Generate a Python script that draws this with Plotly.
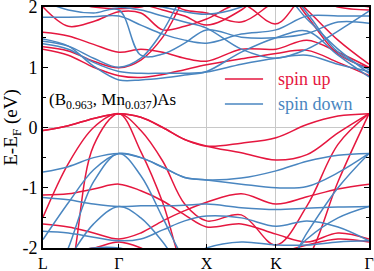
import plotly.graph_objects as go

# high-symmetry points (path length units) and tick labels
sym_pos = [0.0, 0.866, 1.866, 2.657, 3.718]
sym_labels = ["L", "Γ", "X", "K", "Γ"]

# k sampling along L-Γ-X-K-Γ (fractions of each segment)
seg_fracs = [[0, 1/3, 2/3, 1], [0.25, 0.5, 0.75, 1], [0.5, 1], [1/3, 2/3, 1]]

# spin-up bands (eV), one value per k sample
up_bands = [
    [-0.05, 0.03, 0.15, 0.23, 0.17, 0.00, -0.20, -0.31, -0.26, -0.17, 0.05, 0.19, 0.23],
    [-0.05, 0.03, 0.15, 0.23, 0.17, 0.00, -0.20, -0.31, -0.42, -0.54, -0.45, -0.09, 0.23],
    [-1.49, -0.60, 0.00, 0.23, -0.05, -0.56, -1.27, -1.55, -1.45, -1.95, -1.30, -0.28, 0.23],
    [-3.50, -2.60, -0.30, 0.23, -0.40, -1.25, -2.40, -2.90, -2.90, -2.70, -2.20, -0.90, 0.23],
    [-1.12, -1.10, -1.02, -0.94, -1.05, -1.22, -1.45, -1.65, -1.60, -1.77, -1.90, -1.75, -1.85],
    [-1.60, -1.65, -1.75, -1.85, -1.75, -1.55, -1.38, -1.24, -1.10, -1.27, -1.15, -1.02, -0.94],
    [-2.10, -2.05, -2.00, -1.90, -2.00, -2.20, -2.40, -2.50, -2.30, -2.10, -1.95, -1.85, -1.90],
    [1.34, 1.27, 1.10, 0.99, 1.12, 1.50, 2.15, 2.70, 2.70, 2.50, 1.85, 1.22, 0.99],
    [1.30, 1.20, 1.00, 0.86, 0.83, 0.88, 0.96, 1.04, 1.14, 1.23, 1.28, 1.08, 0.86],
    [1.58, 1.52, 1.38, 1.25, 1.30, 1.25, 1.15, 1.10, 1.30, 1.30, 1.45, 1.25, 1.00],
    [2.00, 1.68, 1.76, 1.92, 1.90, 1.62, 1.68, 1.80, 2.05, 1.72, 2.20, 2.00, 1.95],
    [2.30, 2.10, 2.00, 1.97, 2.00, 2.10, 1.95, 1.90, 1.75, 2.10, 2.30, 2.10, 2.00],
    [2.40, 2.30, 2.20, 2.10, 2.05, 1.95, 1.85, 1.70, 1.95, 2.40, 1.95, 1.45, 1.05],
]

# spin-down bands (eV)
down_bands = [
    [-0.74, -0.65, -0.50, -0.43, -0.50, -0.66, -0.83, -0.87, -0.84, -0.72, -0.56, -0.46, -0.43],
    [-1.86, -1.25, -0.70, -0.43, -0.50, -0.66, -0.83, -0.87, -0.94, -1.00, -0.98, -0.75, -0.43],
    [-3.00, -2.00, -0.90, -0.43, -0.80, -1.50, -2.20, -2.60, -2.80, -2.60, -1.75, -1.00, -0.43],
    [-1.16, -1.20, -1.27, -1.31, -1.30, -1.30, -1.29, -1.27, -1.33, -1.36, -1.34, -1.32, -1.31],
    [-3.00, -2.20, -1.60, -1.31, -1.50, -1.90, -2.40, -2.60, -2.70, -2.40, -1.85, -1.50, -1.31],
    [-1.72, -1.75, -1.82, -1.88, -1.85, -1.70, -1.55, -1.47, -1.50, -1.64, -1.55, -1.65, -1.88],
    [-2.30, -2.10, -2.00, -2.00, -2.10, -2.20, -2.20, -2.00, -1.90, -1.95, -1.95, -1.90, -1.88],
    [1.43, 1.35, 1.15, 1.00, 1.15, 1.60, 2.25, 2.70, 2.70, 2.50, 1.90, 1.25, 0.96],
    [1.39, 1.30, 1.08, 0.93, 0.90, 0.90, 0.90, 0.92, 1.05, 1.15, 1.20, 1.05, 0.93],
    [1.47, 1.35, 1.02, 0.79, 0.79, 0.82, 0.87, 0.93, 1.25, 1.49, 1.60, 1.20, 0.84],
    [1.83, 1.83, 1.84, 1.85, 1.70, 1.55, 1.45, 1.40, 1.55, 1.62, 1.85, 1.85, 1.85],
    [2.10, 1.95, 1.90, 1.95, 1.20, 1.22, 1.40, 1.62, 1.50, 1.49, 1.56, 1.75, 1.73],
    [2.30, 2.20, 2.05, 2.00, 1.95, 1.85, 1.75, 1.65, 1.30, 1.15, 1.30, 1.60, 1.93],
    [2.50, 2.40, 2.25, 2.15, 2.05, 2.00, 1.92, 1.88, 2.00, 2.30, 1.80, 1.30, 0.90],
]

legend_labels = ["spin up", "spin down"]

RED = "#e5173f"
BLUE = "#4a86c0"
FONT = "Liberation Serif, Times New Roman, DejaVu Serif, serif"

# k coordinates from high-symmetry positions
kpts = [sym_pos[0]]
for i, fr in enumerate(seg_fracs):
    a, b = sym_pos[i], sym_pos[i + 1]
    if i == 0:
        fr = fr[1:]
    kpts += [a + f * (b - a) for f in fr]

fig = go.Figure()
for e in up_bands:
    fig.add_trace(go.Scatter(x=kpts, y=e, mode="lines", line=dict(color=RED, width=1.5, shape="spline", smoothing=1.0),
                             showlegend=False, hoverinfo="skip"))
for e in down_bands:
    fig.add_trace(go.Scatter(x=kpts, y=e, mode="lines", line=dict(color=BLUE, width=1.5, shape="spline", smoothing=1.0),
                             showlegend=False, hoverinfo="skip"))

# legend drawn as short lines + labels
for lab, col, yy in [(legend_labels[0], RED, 0.701), (legend_labels[1], BLUE, 0.598)]:
    fig.add_shape(type="line", xref="paper", yref="paper", x0=0.558, x1=0.675, y0=yy, y1=yy,
                  line=dict(color=col, width=1.5))
    fig.add_annotation(x=0.716, y=yy, xref="paper", yref="paper", xanchor="left", yanchor="middle",
                       text=lab, showarrow=False, font=dict(family=FONT, size=18, color=col))

fig.add_annotation(x=0.012, y=0.612, xref="paper", yref="paper", xanchor="left", yanchor="middle",
                   text="(B<sub>0.963</sub>, Mn<sub>0.037</sub>)As", showarrow=False,
                   font=dict(family=FONT, size=17, color="black"))

fig.update_layout(
    width=374, height=271,
    margin=dict(l=43, r=5, t=7, b=23, autoexpand=False),
    paper_bgcolor="white", plot_bgcolor="white",
    font=dict(family=FONT, size=18, color="black"),
    showlegend=False,
    xaxis=dict(range=[sym_pos[0], sym_pos[-1]], tickvals=sym_pos, ticktext=sym_labels,
               showgrid=True, gridcolor="#c8c8c8", gridwidth=1,
               showline=True, linecolor="black", linewidth=2, mirror=True,
               ticks="inside", ticklen=4, tickcolor="black", zeroline=False,
               ticklabeloverflow="allow", automargin=False,
               tickfont=dict(family=FONT, size=16)),
    yaxis=dict(range=[-2, 2], tickvals=[-2, -1, 0, 1, 2], ticktext=["-2", "-1", "0", "1", "2"],
               showgrid=False, zeroline=True, zerolinecolor="#c8c8c8", zerolinewidth=1,
               showline=True, linecolor="black", linewidth=2, mirror="ticks",
               ticks="inside", ticklen=5, tickcolor="black",
               ticklabeloverflow="allow", automargin=False,
               minor=dict(dtick=0.5, ticks="inside", ticklen=3, tickcolor="black"),
               title=dict(text="E-E<sub>F</sub> (eV)", font=dict(family=FONT, size=19), standoff=4),
               tickfont=dict(family=FONT, size=18)),
)

fig.write_html("out.html", config={"displayModeBar": False},
               post_script="document.body.style.margin='0';document.body.style.overflow='hidden';")
